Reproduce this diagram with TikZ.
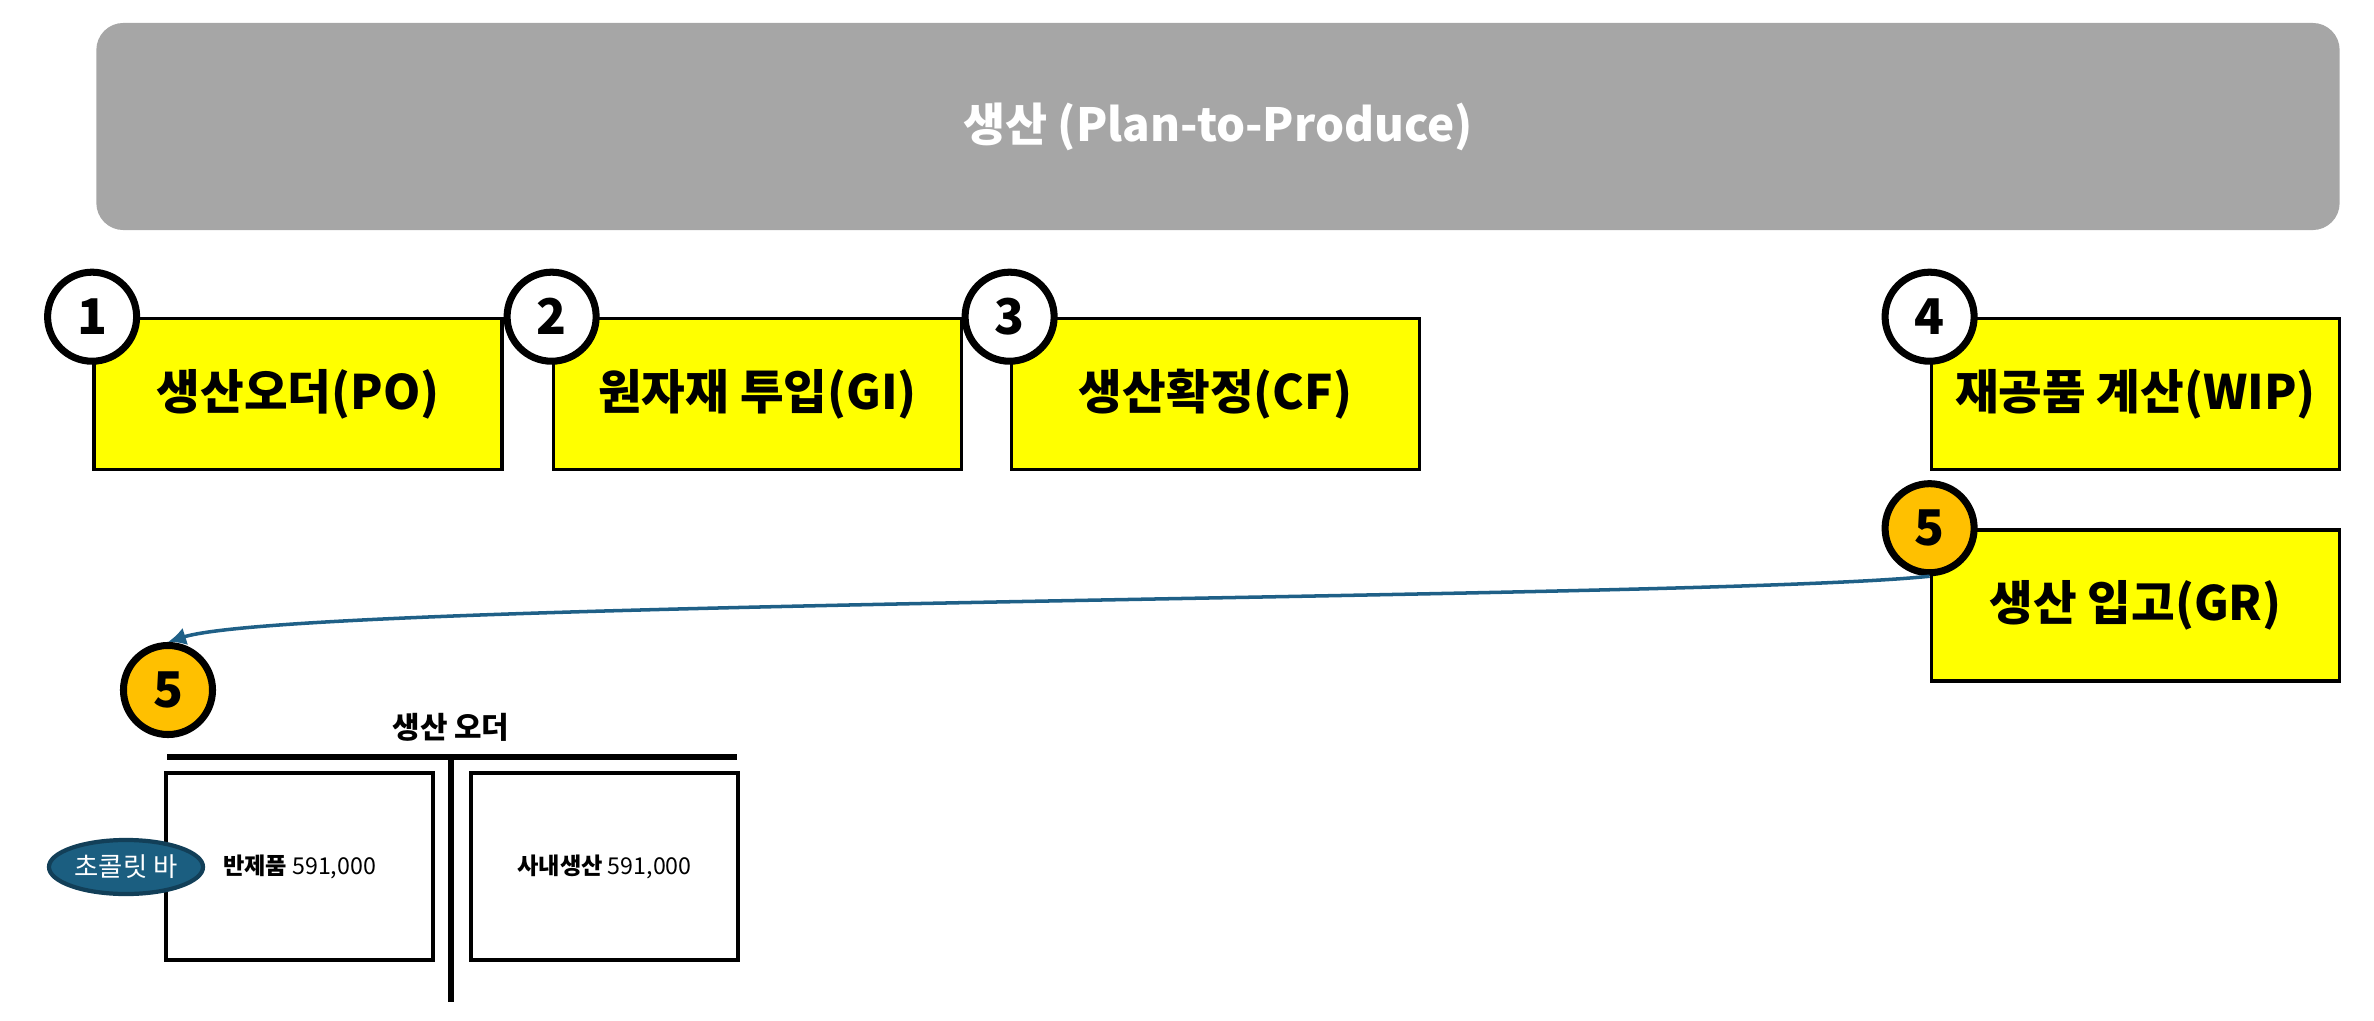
\documentclass[tikz,border=0pt]{standalone}
\usepackage{fontspec}
\setmainfont{Noto Sans CJK KR}
\usetikzlibrary{arrows.meta,positioning,shapes.geometric}
\definecolor{BannerGray}{HTML}{A6A6A6}
\definecolor{StepYellow}{HTML}{FFFF00}
\definecolor{StepOrange}{HTML}{FFC000}
\definecolor{LinkBlue}{HTML}{1F6087}
\definecolor{TagBlue}{HTML}{1B5E80}
\definecolor{TagEdge}{HTML}{123F58}

\begin{document}
\begin{tikzpicture}[
    x=0.01cm,y=-0.01cm,
    banner/.style={fill=BannerGray,rounded corners=0.27cm,minimum width=22.42cm,
      minimum height=2.07cm,text=white,font=\fontsize{13}{15}\selectfont\bfseries},
    stepbox/.style={draw=black,line width=1pt,fill=StepYellow,minimum width=4.08cm,
      minimum height=1.51cm,font=\fontsize{13.5}{16}\selectfont\bfseries},
    num/.style={circle,draw=black,line width=2pt,fill=white,minimum size=0.89cm,
      inner sep=0pt,font=\fontsize{14}{16}\selectfont\bfseries},
    numhi/.style={num,fill=StepOrange},
    docbox/.style={draw=black,line width=1.2pt,minimum width=2.67cm,minimum height=1.87cm,
      font=\fontsize{6.6}{8}\selectfont},
    tline/.style={line width=1.7pt},
    tag/.style={ellipse,draw=TagEdge,line width=1.2pt,fill=TagBlue,text=white,
      minimum width=1.54cm,minimum height=0.54cm,inner sep=0pt,font=\fontsize{7.5}{9}\selectfont},
    link/.style={-{Latex[length=1.8mm,width=1.8mm]},line width=1pt,draw=LinkBlue}
  ]
    \useasboundingbox (0,0) rectangle (2374,1021);
    % process banner
    \node[banner] (p2p) at (1218,126.5) {생산 (Plan-to-Produce)};
    % steps
    \node[stepbox] (po) at (298,394) {생산오더(PO)};
    \node[stepbox] (gi) at (757.5,394) {원자재 투입(GI)};
    \node[stepbox] (cf) at (1215.5,394) {생산확정(CF)};
    \node[stepbox] (wip) at (2135.5,394) {재공품 계산(WIP)};
    \node[stepbox] (gr) at (2135.5,605.5) {생산 입고(GR)};
    \node[num] (c1) at (po.north west) {1};
    \node[num] (c2) at (gi.north west) {2};
    \node[num] (c3) at (cf.north west) {3};
    \node[num] (c4) at (wip.north west) {4};
    \node[numhi] (c5a) at (gr.north west) {5};
    % production order document
    \node[font=\fontsize{8.5}{10}\selectfont\bfseries] (ordtitle) at (451,727) {생산 오더};
    \coordinate (tl) at (167,757);
    \coordinate (tr) at (737,757);
    \coordinate (tb) at (451,1002);
    \draw[tline] (tl) -- (tr);
    \draw[tline] (tl -| tb) -- (tb);
    \node[docbox] (semi) at (299.5,866.5) {{\bfseries 반제품} 591,000};
    \node[docbox] (inhouse) at (604.5,866.5) {{\bfseries 사내생산} 591,000};
    \node[tag] (choco) at (126,867) {초콜릿 바};
    \node[numhi] (c5b) at (168,690) {5};
    \draw[link] (c5a.south) .. controls (1700,600) and (300,600) .. (c5b.north);
  \end{tikzpicture}
\end{document}
